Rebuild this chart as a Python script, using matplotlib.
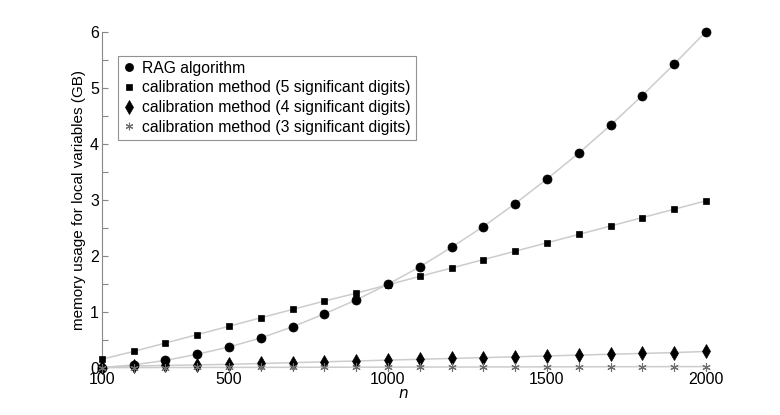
import matplotlib
matplotlib.use("Agg")
import matplotlib.pyplot as plt
from matplotlib.lines import Line2D

plt.rcParams['font.family'] = ['Liberation Sans', 'DejaVu Sans']

n = [100, 200, 300, 400, 500, 600, 700, 800, 900, 1000,
     1100, 1200, 1300, 1400, 1500, 1600, 1700, 1800, 1900, 2000]
rag = [0.0, 0.05, 0.13, 0.24, 0.37, 0.53, 0.73, 0.96, 1.21, 1.49,
       1.80, 2.15, 2.52, 2.93, 3.37, 3.83, 4.33, 4.86, 5.42, 6.0]
cal5 = [0.15, 0.29, 0.44, 0.59, 0.74, 0.89, 1.04, 1.19, 1.33, 1.48,
        1.63, 1.78, 1.93, 2.08, 2.23, 2.38, 2.53, 2.68, 2.83, 2.98]
cal4 = [0.01, 0.03, 0.04, 0.05, 0.06, 0.075, 0.09, 0.105, 0.12, 0.135,
        0.15, 0.165, 0.18, 0.195, 0.21, 0.225, 0.24, 0.255, 0.27, 0.29]
cal3 = [0.001, 0.002, 0.003, 0.004, 0.005, 0.006, 0.007, 0.008, 0.009, 0.01,
        0.011, 0.012, 0.013, 0.014, 0.015, 0.016, 0.017, 0.018, 0.019, 0.02]
labels = ["RAG algorithm",
          "calibration method (5 significant digits)",
          "calibration method (4 significant digits)",
          "calibration method (3 significant digits)"]
xticks = [100, 500, 1000, 1500, 2000]
yticks = [0, 1, 2, 3, 4, 5, 6]

fig = plt.figure(figsize=(7.8, 4.15), dpi=100)
ax = fig.add_axes([0.1304, 0.114, 0.905 - 0.1304, 0.9236 - 0.114])

line_col = '#cccccc'
styles = [
    dict(marker='o', color='black', ms=6.5, mew=0.5),
    dict(marker='s', color='black', ms=4.8, mew=0.5),
    dict(marker='d', color='black', ms=7.5, mew=0.5),
    dict(marker=(6, 2, 0), color='#6e6e6e', ms=6, mew=0.8),
]
series = [rag, cal5, cal4, cal3]
handles = []
for ys, st, lab in zip(series, styles, labels):
    ax.plot(n, ys, '-', color=line_col, lw=1.1, zorder=2, clip_on=False)
    ax.plot(n, ys, linestyle='none', marker=st['marker'], color=st['color'],
            ms=st['ms'], mew=st['mew'], zorder=3, clip_on=False)
    handles.append(Line2D([], [], linestyle='none', marker=st['marker'],
                          color=st['color'], ms=st['ms'] * 0.9,
                          mew=st['mew'], label=lab))

ax.set_xlim(100, 2000)
ax.set_ylim(0, 6)
ax.set_xticks(xticks)
ax.set_xticklabels([str(v) for v in xticks])
ax.set_yticks(yticks)
ax.set_yticks([0.5, 1.5, 2.5, 3.5, 4.5, 5.5], minor=True)
ax.tick_params(axis='x', length=0, labelsize=11.5, pad=3)
ax.tick_params(axis='y', which='both', direction='in', length=4, width=0.8,
               color='#888888', labelsize=11.5, pad=2)
for s in ['top', 'right', 'bottom']:
    ax.spines[s].set_visible(False)
ax.spines['left'].set_color('#888888')
ax.spines['left'].set_linewidth(0.8)

ax.set_ylabel("memory usage for local variables (GB)", fontsize=11, labelpad=3)
ax.set_xlabel("$n$", fontsize=11, labelpad=0)

leg = fig.legend(handles=handles, loc='upper left',
                 bbox_to_anchor=(118 / 780, 1 - 56 / 415),
                 fontsize=11.3, frameon=True, fancybox=False,
                 handlelength=0.8, handletextpad=0.45, borderpad=0.3,
                 labelspacing=0.3, borderaxespad=0)
leg.get_frame().set_edgecolor('#777777')
leg.get_frame().set_linewidth(0.8)

fig.savefig("out.png", dpi=100)
